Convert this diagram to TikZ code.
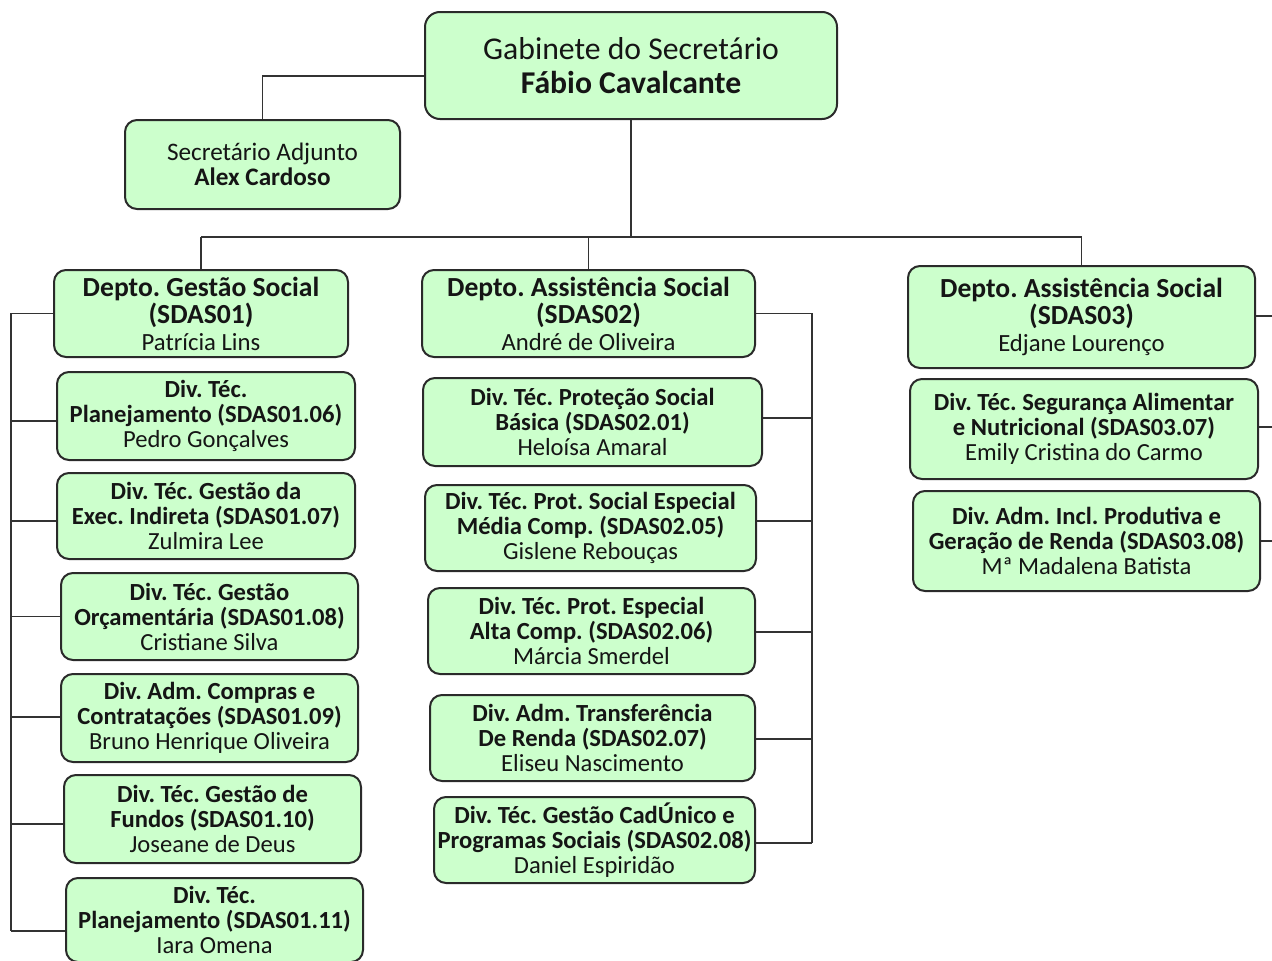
\documentclass[tikz,border=0pt]{standalone}
\usepackage{fontspec}
\setmainfont{Carlito}
\frenchspacing
\definecolor{boxfill}{HTML}{CCFFCC}
\definecolor{boxline}{HTML}{2A2A2A}
\definecolor{linkc}{HTML}{333333}
\definecolor{txt}{HTML}{151515}
\newcommand\namesize{\fontsize{24.7}{27}\selectfont}
\tikzset{
  box/.style={draw=boxline, line width=2pt, fill=boxfill, rounded corners=12pt,
              inner sep=0pt, align=center, text=txt},
  topfont/.style={font=\fontsize{31.7}{34}\selectfont},
  adjfont/.style={font=\fontsize{25.2}{25}\selectfont},
  deptfont/.style={font=\fontsize{27.6}{27}\selectfont},
  divfont/.style={font=\fontsize{24.6}{25}\selectfont},
  link/.style={draw=linkc, line width=1.4pt},
}
\begin{document}
\begin{tikzpicture}[x=1pt, y=-1pt]
\useasboundingbox (0,0) rectangle (1272,961);

% top level
\node[box, topfont, rounded corners=15pt, minimum width=412pt, minimum height=107pt] (gab) at (631,65.5)
  {Gabinete do Secretário\\\textbf{Fábio Cavalcante}};
\node[box, adjfont, minimum width=275pt, minimum height=89pt] (adj) at (262.5,164.5)
  {Secretário Adjunto\\\textbf{Alex Cardoso}};

% departments
\node[box, deptfont, minimum width=294pt, minimum height=87pt] (d1) at (201,313.5)
  {\textbf{Depto. Gestão Social}\\\textbf{(SDAS01)}\\{\namesize Patrícia Lins}};
\node[box, deptfont, minimum width=333pt, minimum height=87pt] (d2) at (588.5,313.5)
  {\textbf{Depto. Assistência Social}\\\textbf{(SDAS02)}\\{\namesize André de Oliveira}};
\node[box, deptfont, minimum width=347pt, minimum height=102pt] (d3) at (1081.5,317)
  {\textbf{Depto. Assistência Social}\\\textbf{(SDAS03)}\\{\namesize Edjane Lourenço}};

% divisions of SDAS01
\node[box, divfont, minimum width=298pt, minimum height=88pt] (l1) at (206,416)
  {\textbf{Div. Téc.}\\\textbf{Planejamento (SDAS01.06)}\\Pedro Gonçalves};
\node[box, divfont, minimum width=298pt, minimum height=86pt] (l2) at (206,516)
  {\textbf{Div. Téc. Gestão da}\\\textbf{Exec. Indireta (SDAS01.07)}\\Zulmira Lee};
\node[box, divfont, minimum width=297pt, minimum height=87pt] (l3) at (209.5,616.5)
  {\textbf{Div. Téc. Gestão}\\\textbf{Orçamentária (SDAS01.08)}\\Cristiane Silva};
\node[box, divfont, minimum width=297pt, minimum height=88pt] (l4) at (209.5,718)
  {\textbf{Div. Adm. Compras e}\\\textbf{Contratações (SDAS01.09)}\\Bruno Henrique Oliveira};
\node[box, divfont, minimum width=297pt, minimum height=88pt] (l5) at (212.5,819)
  {\textbf{Div. Téc. Gestão de}\\\textbf{Fundos (SDAS01.10)}\\Joseane de Deus};
\node[box, divfont, minimum width=297pt, minimum height=84pt] (l6) at (214.5,920)
  {\textbf{Div. Téc.}\\\textbf{Planejamento (SDAS01.11)}\\Iara Omena};

% divisions of SDAS02
\node[box, divfont, minimum width=339pt, minimum height=88pt] (m1) at (592.5,422)
  {\textbf{Div. Téc. Proteção Social}\\\textbf{Básica (SDAS02.01)}\\Heloísa Amaral};
\node[box, divfont, minimum width=331pt, minimum height=86pt] (m2) at (590.5,528)
  {\textbf{Div. Téc. Prot. Social Especial}\\\textbf{Média Comp. (SDAS02.05)}\\Gislene Rebouças};
\node[box, divfont, minimum width=327pt, minimum height=86pt] (m3) at (591.5,631)
  {\textbf{Div. Téc. Prot. Especial}\\\textbf{Alta Comp. (SDAS02.06)}\\Márcia Smerdel};
\node[box, divfont, minimum width=325pt, minimum height=86pt] (m4) at (592.5,738)
  {\textbf{Div. Adm. Transferência}\\\textbf{De Renda (SDAS02.07)}\\Eliseu Nascimento};
\node[box, divfont, minimum width=321pt, minimum height=86pt] (m5) at (594.5,840)
  {\textbf{Div. Téc. Gestão CadÚnico e}\\\textbf{Programas Sociais (SDAS02.08)}\\Daniel Espiridão};

% divisions of SDAS03
\node[box, divfont, minimum width=348pt, minimum height=100pt] (r1) at (1084,429)
  {\textbf{Div. Téc. Segurança Alimentar}\\\textbf{e Nutricional (SDAS03.07)}\\Emily Cristina do Carmo};
\node[box, divfont, minimum width=347pt, minimum height=100pt] (r2) at (1086.5,541)
  {\textbf{Div. Adm. Incl. Produtiva e}\\\textbf{Geração de Renda (SDAS03.08)}\\Mª Madalena Batista};

% connector rails
\coordinate (bus) at (631,237);
\coordinate (lbus) at (11,0);
\coordinate (mbus) at (812,0);
\coordinate (rbus) at (1280,0);
\coordinate (lend) at (11,931);
\coordinate (mend) at (812,843);

% top links (yshift is in page direction: negative moves down)
\draw[link] ([yshift=-10.5pt]gab.west) -| (adj.north);
\draw[link] (gab.south) -- (gab.south |- bus);
\draw[link] (d1.north |- bus) -- (d3.north |- bus);
\draw[link] (d1.north |- bus) -- (d1.north);
\draw[link] (d2.north |- bus) -- (d2.north);
\draw[link] (d3.north |- bus) -- (d3.north);

% SDAS01 rail
\draw[link] (d1.west) -- (d1.west -| lbus) -- (lend);
\foreach \n/\s in {l1/-5, l2/-5, l3/0, l4/1, l5/-5, l6/-11}
  \draw[link] ([yshift=\s pt]\n.west) -- ([yshift=\s pt]\n.west -| lbus);

% SDAS02 rail
\draw[link] (d2.east) -- (d2.east -| mbus) -- (mend);
\foreach \n/\s in {m1/4, m2/7, m3/-1, m4/-1, m5/-3}
  \draw[link] ([yshift=\s pt]\n.east) -- ([yshift=\s pt]\n.east -| mbus);

% SDAS03 links
\foreach \n/\s in {d3/1, r1/2, r2/0}
  \draw[link] ([yshift=\s pt]\n.east) -- ([yshift=\s pt]\n.east -| rbus);
\end{tikzpicture}
\end{document}
